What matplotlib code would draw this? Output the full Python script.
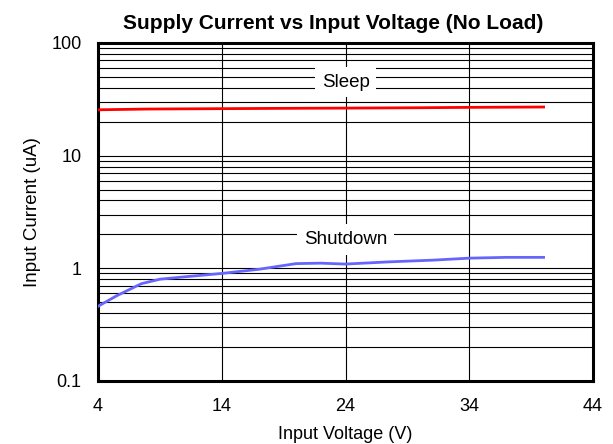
import numpy as np
import matplotlib.pyplot as plt
import matplotlib.ticker as ticker

plt.rcParams["font.family"] = ["Liberation Sans", "DejaVu Sans"]

# Data
sleep_v = [4, 8, 14, 20, 24, 30, 34, 40]
sleep_i = [25.5, 25.9, 26.1, 26.3, 26.4, 26.6, 26.8, 27.0]

shutdown_v = [4, 5.5, 7.5, 9, 11, 14, 17, 20, 22, 24, 27.5, 31, 34, 37, 40]
shutdown_i = [0.46, 0.57, 0.73, 0.80, 0.84, 0.90, 0.98, 1.10, 1.11, 1.09, 1.14, 1.18, 1.23, 1.25, 1.25]

x_ticks = [4, 14, 24, 34, 44]
y_ticks = [0.1, 1, 10, 100]
y_tick_labels = ["0.1", "1", "10", "100"]

RED = "#ff0000"
BLUE = "#6666ff"

fig = plt.figure(figsize=(6.13, 4.44), dpi=100)
ax = fig.add_axes([0.160, 0.142, 0.8075, 0.7613])

ax.set_yscale("log")
ax.set_xlim(4, 44)
ax.set_ylim(0.1, 100)

ax.plot(sleep_v, sleep_i, color=RED, linewidth=2, zorder=3)
ax.plot(shutdown_v, shutdown_i, color=BLUE, linewidth=2, zorder=3)

ax.set_xticks(x_ticks)
ax.set_yticks(y_ticks)
ax.set_yticklabels(y_tick_labels)
ax.yaxis.set_minor_locator(ticker.LogLocator(base=10, subs=np.arange(2, 10)))
ax.yaxis.set_minor_formatter(ticker.NullFormatter())

ax.grid(True, which="major", axis="both", color="black", linewidth=0.8)
ax.grid(True, which="minor", axis="y", color="black", linewidth=0.8)
ax.tick_params(which="both", length=0, labelsize=13, pad=12)

for sp in ax.spines.values():
    sp.set_linewidth(2.2)

ax.text(24, 45, "Sleep", ha="center", va="center", fontsize=13.5,
        bbox=dict(facecolor="white", edgecolor="none", pad=5), zorder=4)
ax.text(24, 1.8, "Shutdown", ha="center", va="center", fontsize=13.5,
        bbox=dict(facecolor="white", edgecolor="none", pad=5), zorder=4)

ax.set_xlabel("Input Voltage (V)", fontsize=13, labelpad=8)
ax.set_ylabel("Input Current (uA)", fontsize=13.5, labelpad=7)
ax.set_title("Supply Current vs Input Voltage (No Load)", fontsize=15,
             fontweight="bold", pad=10, x=0.475)

fig.savefig("out.png", dpi=100)
